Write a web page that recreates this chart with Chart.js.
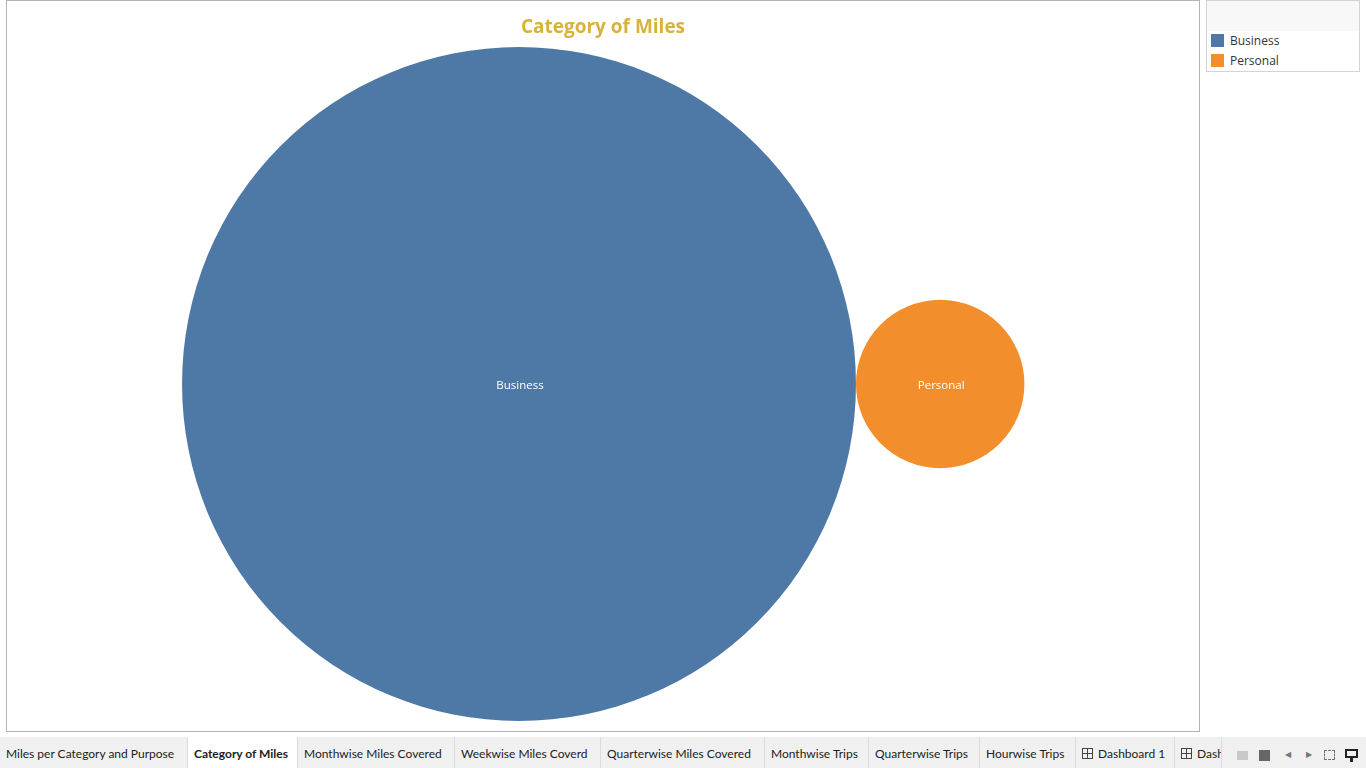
<!DOCTYPE html>
<html>
<head>
<meta charset="utf-8">
<script src="https://cdn.jsdelivr.net/npm/chart.js@4"></script>
<style>
  html, body { margin:0; padding:0; width:1366px; height:768px; overflow:hidden; background:#fff; font-family:"Open Sans","Noto Sans",sans-serif; }
  #frame { position:absolute; left:6px; top:0px; width:1192px; height:730px; border:1px solid #b4b4b4; }
  #frame canvas { position:absolute; left:0; top:0; }
  #title { position:absolute; left:6px; top:13px; width:1194px; text-align:center; color:#d9b23c; font:bold 19px "Open Sans","Noto Sans",sans-serif; pointer-events:none; }
  #legend { position:absolute; left:1206px; top:0px; width:152px; height:70px; border:1px solid #d4d4d4; background:#fff; }
  #legend .hdr { height:30px; background:#f8f8f8; }
  #legend .item { position:absolute; left:4px; font:12px "Open Sans","Noto Sans",sans-serif; color:#333; line-height:14px; }
  #legend .sw { display:inline-block; width:13px; height:13px; vertical-align:-2px; margin-right:6px; }
  #tabs { position:absolute; left:0; top:737px; width:1366px; height:31px; background:#f0f0f0; font:12px Lato,"Open Sans",sans-serif; color:#222; }
  .tab { position:absolute; top:0; height:31px; line-height:34px; white-space:nowrap; overflow:hidden; border-right:1px solid #dcdcdc; box-sizing:border-box; padding-left:6px; }
  .tab.active { background:#fff; font-weight:bold; }
  .icon { position:absolute; top:12px; }
  .grid { display:inline-block; width:9px; height:9px; border:1px solid #444; vertical-align:-1px; margin-right:5px; position:relative;
          background: linear-gradient(#444,#444) center/1px 100% no-repeat, linear-gradient(#444,#444) center/100% 1px no-repeat; }
</style>
</head>
<body>
<div id="frame"><canvas id="c" width="1192" height="730"></canvas></div>
<div id="title">Category of Miles</div>
<div id="legend">
  <div class="hdr"></div>
  <div class="item" style="top:33px"><span class="sw" style="background:#4e79a7"></span>Business</div>
  <div class="item" style="top:53px"><span class="sw" style="background:#f28e2b"></span>Personal</div>
</div>
<div id="tabs">
  <div class="tab" style="left:0;width:188px;">Miles per Category and Purpose</div>
  <div class="tab active" style="left:188px;width:110px;">Category of Miles</div>
  <div class="tab" style="left:298px;width:157px;">Monthwise Miles Covered</div>
  <div class="tab" style="left:455px;width:146px;">Weekwise Miles Coverd</div>
  <div class="tab" style="left:601px;width:164px;">Quarterwise Miles Covered</div>
  <div class="tab" style="left:765px;width:104px;">Monthwise Trips</div>
  <div class="tab" style="left:869px;width:111px;">Quarterwise Trips</div>
  <div class="tab" style="left:980px;width:96px;">Hourwise Trips</div>
  <div class="tab" style="left:1076px;width:99px;"><span class="grid"></span>Dashboard 1</div>
  <div class="tab" style="left:1175px;width:47px;"><span class="grid"></span>Dashboard 2</div>
  <div class="icon" style="left:1237px;top:14px;width:11px;height:9px;background:#c8c8c8;"></div>
  <div class="icon" style="left:1259px;top:13px;width:11px;height:11px;background:#666;"></div>
  <div class="icon" style="left:1285px;top:11px;font-size:8px;line-height:12px;color:#777;">&#9664;</div>
  <div class="icon" style="left:1306px;top:11px;font-size:8px;line-height:12px;color:#777;">&#9654;</div>
  <div class="icon" style="left:1324px;top:13px;width:11px;height:10px;border:1px dashed #777;box-sizing:border-box;"></div>
  <div class="icon" style="left:1345px;top:12px;width:13px;height:9px;border:2px solid #222;box-sizing:border-box;"></div>
  <div class="icon" style="left:1350px;top:21px;width:3px;height:4px;background:#222;"></div>
</div>
<script>
// ---- data ----
const categories = ["Business", "Personal"];
const miles = [11487.0, 717.7];
const colors = ["#4e79a7", "#f28e2b"];

// ---- layout: radius proportional to sqrt(value), bubbles packed side by side ----
const K = 3.144; // pixels per sqrt(mile)
const radii = miles.map(v => K * Math.sqrt(v));
const xs = [0, radii[0] + radii[1]];

const labelPlugin = {
  id: 'bubbleLabels',
  afterDatasetsDraw(chart) {
    const ctx = chart.ctx;
    const meta = chart.getDatasetMeta(0);
    ctx.save();
    ctx.fillStyle = '#ffffff';
    ctx.font = '11.5px "Open Sans","Noto Sans",sans-serif';
    ctx.textAlign = 'center';
    ctx.textBaseline = 'middle';
    meta.data.forEach((el, i) => {
      ctx.fillText(categories[i], el.x + 1, el.y + 2);
    });
    ctx.restore();
  }
};

new Chart(document.getElementById('c'), {
  type: 'bubble',
  data: {
    labels: categories,
    datasets: [{
      data: categories.map((c, i) => ({ x: xs[i], y: 0, r: radii[i], v: miles[i] })),
      backgroundColor: colors,
      borderWidth: 0,
      hoverBorderWidth: 0,
      hoverRadius: 0,
      clip: false
    }]
  },
  options: {
    responsive: false,
    animation: false,
    events: [],
    layout: { padding: 0, autoPadding: false },
    scales: {
      x: { type: 'linear', display: false, min: -512, max: 680 },
      y: { type: 'linear', display: false, min: -347, max: 383 }
    },
    plugins: { legend: { display: false }, title: { display: false }, tooltip: { enabled: false } }
  },
  plugins: [labelPlugin]
});
</script>
</body>
</html>
